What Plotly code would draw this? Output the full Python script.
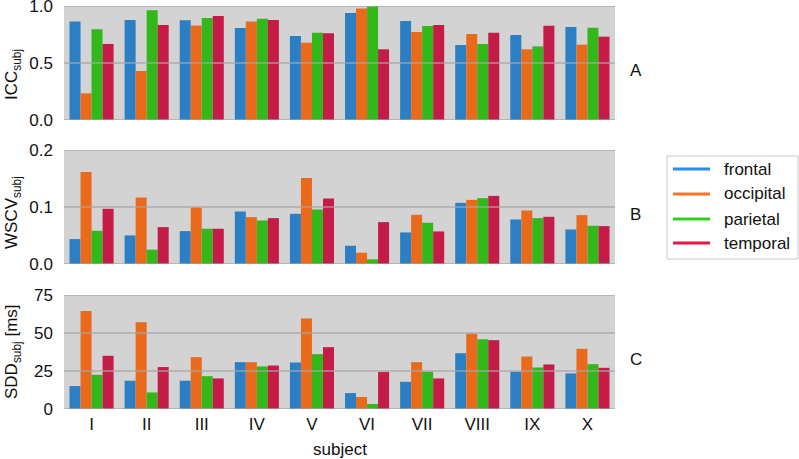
import plotly.graph_objects as go
from plotly.subplots import make_subplots

subjects = ["I", "II", "III", "IV", "V", "VI", "VII", "VIII", "IX", "X"]
regions = ["frontal", "occipital", "parietal", "temporal"]

icc_frontal = [0.865, 0.877, 0.874, 0.807, 0.737, 0.939, 0.868, 0.658, 0.746, 0.816]
icc_occipital = [0.234, 0.430, 0.830, 0.865, 0.678, 0.977, 0.772, 0.754, 0.620, 0.661]
icc_parietal = [0.795, 0.962, 0.895, 0.889, 0.766, 0.997, 0.825, 0.667, 0.646, 0.810]
icc_temporal = [0.667, 0.833, 0.912, 0.877, 0.760, 0.620, 0.833, 0.766, 0.827, 0.731]

wscv_frontal = [0.0437, 0.0501, 0.0577, 0.0921, 0.0880, 0.0320, 0.0554, 0.1073, 0.0781, 0.0606]
wscv_occipital = [0.1615, 0.1166, 0.0991, 0.0822, 0.1510, 0.0198, 0.0863, 0.1125, 0.0939, 0.0857]
wscv_parietal = [0.0583, 0.0251, 0.0618, 0.0764, 0.0956, 0.0082, 0.0723, 0.1155, 0.0805, 0.0671]
wscv_temporal = [0.0968, 0.0647, 0.0618, 0.0805, 0.1149, 0.0735, 0.0571, 0.1195, 0.0828, 0.0665]

sdd_frontal = [15.1, 18.6, 18.6, 30.8, 30.6, 10.5, 17.9, 36.7, 24.5, 23.4]
sdd_occipital = [64.5, 57.1, 34.1, 30.8, 59.5, 7.9, 30.8, 49.6, 34.5, 39.6]
sdd_parietal = [22.5, 10.9, 21.6, 28.0, 36.1, 3.3, 24.5, 45.9, 27.3, 29.5]
sdd_temporal = [35.0, 27.6, 20.1, 28.6, 40.7, 24.3, 20.1, 45.3, 29.3, 27.1]

icc_ticks = [0.0, 0.5, 1.0]
wscv_ticks = [0.0, 0.1, 0.2]
sdd_ticks = [0, 25, 50, 75]

panel_labels = ["A", "B", "C"]
y_titles = ["ICC<sub>subj</sub>", "WSCV<sub>subj</sub>", "SDD<sub>subj</sub> [ms]"]
x_title = "subject"

bar_colors = ["#2b7fc4", "#ea6a1c", "#33b81b", "#c51b47"]
legend_colors = ["#2a8af0", "#ff7326", "#2fd21c", "#ee1544"]

FONT = "Liberation Sans, Arial, sans-serif"
TXT = "#111111"
FS = 17

# pixel layout helpers (plot area 64..615 x, 6..409 y)
L, R, T, B = 64, 615, 6, 409
def px(xp):
    return (xp - L) / (R - L)
def py(yp):
    return (B - yp) / (B - T)

panels = [
    ([icc_frontal, icc_occipital, icc_parietal, icc_temporal], icc_ticks, [0, 1.0], ".1f"),
    ([wscv_frontal, wscv_occipital, wscv_parietal, wscv_temporal], wscv_ticks, [0, 0.2], ".1f"),
    ([sdd_frontal, sdd_occipital, sdd_parietal, sdd_temporal], sdd_ticks, [0, 75], "d"),
]

fig = make_subplots(rows=3, cols=1, shared_xaxes=True)

for r, (series, ticks, rng, fmt) in enumerate(panels, start=1):
    for name, vals, col in zip(regions, series, bar_colors):
        fig.add_trace(go.Bar(x=subjects, y=vals, name=name, marker=dict(color=col, line=dict(width=0)),
                             showlegend=False, hoverinfo="skip"), row=r, col=1)

domains = [[py(120), 1.0], [py(264), py(150)], [0.0, py(295)]]
title_shift = [-12, -6, 0]
shapes = []
annotations = []
for i, ((series, ticks, rng, fmt), dom) in enumerate(zip(panels, domains)):
    ax = "yaxis" if i == 0 else f"yaxis{i+1}"
    xa = "xaxis" if i == 0 else f"xaxis{i+1}"
    yref = "y" if i == 0 else f"y{i+1}"
    xref = "x" if i == 0 else f"x{i+1}"
    fig.layout[ax].update(domain=dom, range=rng, tickvals=ticks, tickformat=fmt, automargin=False,
                          showgrid=False, zeroline=False, ticks="", ticklabelstandoff=10,
                          ticklabeloverflow="allow",
                          tickfont=dict(size=FS, color=TXT, family=FONT))
    fig.layout[xa].update(range=[-0.5, 9.5], showgrid=False, zeroline=False, ticks="", automargin=False,
                          showticklabels=(i == 2), tickfont=dict(size=FS, color=TXT, family=FONT),
                          ticklabelstandoff=3, ticklabeloverflow="allow")
    for t in ticks:
        shapes.append(dict(type="line", xref=f"{xref} domain", yref=yref, x0=0, x1=1, y0=t, y1=t,
                           layer="above", line=dict(color="rgba(165,165,165,0.85)", width=1.5)))
    annotations.append(dict(text=panel_labels[i], xref="paper", yref=f"{yref} domain", x=px(628), y=0.5,
                            xanchor="left", yanchor="middle", yshift=-7, showarrow=False,
                            font=dict(size=FS, color=TXT, family=FONT)))
    annotations.append(dict(text=y_titles[i], xref="paper", yref=f"{yref} domain", x=px(13), y=0.5,
                            xanchor="center", yanchor="middle", yshift=title_shift[i], textangle=-90,
                            showarrow=False, font=dict(size=FS, color=TXT, family=FONT)))

annotations.append(dict(text=x_title, xref="paper", yref="paper", x=0.5, y=py(449),
                        xanchor="center", yanchor="middle", showarrow=False,
                        font=dict(size=FS, color=TXT, family=FONT)))

# legend box drawn as lines + labels
shapes.append(dict(type="rect", xref="paper", yref="paper", x0=px(667), x1=px(798), y0=py(259), y1=py(156),
                   line=dict(color="#c8c8c8", width=1), fillcolor="white", layer="above"))
row_y = [169, 194, 219, 243]
for name, col, yy in zip(regions, legend_colors, row_y):
    shapes.append(dict(type="line", xref="paper", yref="paper", x0=px(673), x1=px(710), y0=py(yy), y1=py(yy),
                       line=dict(color=col, width=3), layer="above"))
    annotations.append(dict(text=name, xref="paper", yref="paper", x=px(722), y=py(yy),
                            xanchor="left", yanchor="middle", showarrow=False,
                            font=dict(size=FS, color=TXT, family=FONT)))

fig.update_layout(
    width=799, height=459,
    margin=dict(l=L, r=799 - R, t=T, b=459 - B),
    paper_bgcolor="white", plot_bgcolor="#d3d3d3",
    barmode="group", bargap=0.2, bargroupgap=0,
    font=dict(family=FONT, color=TXT, size=FS),
    showlegend=False, hovermode=False,
    shapes=shapes, annotations=annotations,
)

fig.write_html("out.html", config={"displayModeBar": False, "staticPlot": True},
               post_script="document.body.style.margin='0';document.body.style.padding='0';"
                           "document.body.style.overflow='hidden';")
